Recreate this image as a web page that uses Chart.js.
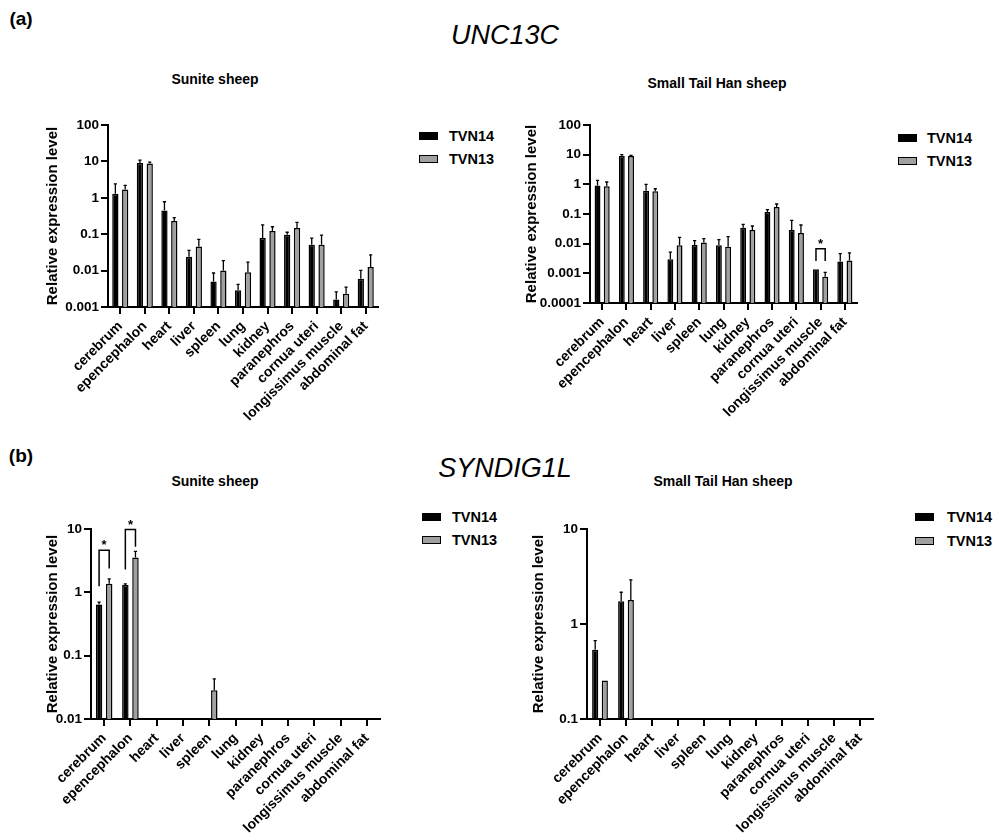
<!DOCTYPE html>
<html>
<head>
<meta charset="utf-8">
<script src="https://cdn.jsdelivr.net/npm/chart.js@4.4.1/dist/chart.umd.min.js"></script>
<style>
  body{margin:0;width:996px;height:836px;position:relative;overflow:hidden;background:#fff;
       font-family:"Liberation Sans",Arial,sans-serif;color:#000}
  .abs{position:absolute}
  .tag{font-weight:bold;font-size:19px;transform:translate(-50%,-50%)}
  .gene{font-style:italic;font-size:27px;transform:translate(-50%,-50%);white-space:nowrap}
  .sub{font-weight:bold;font-size:14px;transform:translate(-50%,-50%);white-space:nowrap}
  .lgbox{position:absolute;width:19px;height:8px;box-sizing:border-box;border:1.5px solid #000}
  .lgtxt{position:absolute;font-weight:bold;font-size:14.5px;line-height:18px;white-space:nowrap}
</style>
</head>
<body>

<div class="abs tag" style="left:21px;top:19px">(a)</div>
<div class="abs gene" style="left:505px;top:35px">UNC13C</div>
<div class="abs sub" style="left:215px;top:79px">Sunite sheep</div>
<div class="abs sub" style="left:717px;top:83px">Small Tail Han sheep</div>

<div class="abs tag" style="left:21px;top:456px">(b)</div>
<div class="abs gene" style="left:505px;top:468px">SYNDIG1L</div>
<div class="abs sub" style="left:215px;top:481px">Sunite sheep</div>
<div class="abs sub" style="left:723px;top:481px">Small Tail Han sheep</div>

<script>
/* ===== dados ===== */

const tissues = ['cerebrum','epencephalon','heart','liver','spleen','lung','kidney',
                 'paranephros','cornua uteri','longissimus muscle','abdominal fat'];
const groups = ['TVN14','TVN13'];

// UNC13C - Sunite sheep (media e topo da barra de erro)
const uncSun14    = [1.3, 9.0, 0.45, 0.024, 0.005, 0.0029, 0.079, 0.096, 0.051, 0.0016, 0.006];
const uncSun14Err = [2.4, 10.9, 0.78, 0.036, 0.0086, 0.0042, 0.18, 0.113, 0.078, 0.0026, 0.0102];
const uncSun13    = [1.7, 8.8, 0.23, 0.046, 0.01, 0.009, 0.123, 0.149, 0.051, 0.0023, 0.0126];
const uncSun13Err = [2.2, 9.6, 0.285, 0.072, 0.0187, 0.017, 0.16, 0.21, 0.094, 0.0035, 0.027];

// UNC13C - Small Tail Han sheep
const uncSth14    = [0.92, 9.0, 0.61, 0.003, 0.009, 0.0088, 0.0346, 0.117, 0.029, 0.00136, 0.0025];
const uncSth14Err = [1.36, 10, 1.0, 0.0052, 0.0126, 0.0136, 0.045, 0.14, 0.061, null, 0.0046];
const uncSth13    = [0.86, 9.0, 0.58, 0.0088, 0.011, 0.0079, 0.029, 0.172, 0.023, 0.00076, 0.0027];
const uncSth13Err = [1.2, 9.5, 0.71, 0.0163, 0.0147, 0.0172, 0.0394, 0.217, 0.0425, 0.00108, 0.0049];

// SYNDIG1L - Sunite sheep
const synSun14    = [0.645, 1.31, null, null, null, null, null, null, null, null, null];
const synSun14Err = [0.70, 1.36, null, null, null, null, null, null, null, null, null];
const synSun13    = [1.37, 3.55, null, null, 0.0285, null, null, null, null, null, null];
const synSun13Err = [1.63, 4.42, null, null, 0.043, null, null, null, null, null, null];

// SYNDIG1L - Small Tail Han sheep
const synSth14    = [0.536, 1.74, null, null, null, null, null, null, null, null, null];
const synSth14Err = [0.667, 2.16, null, null, null, null, null, null, null, null, null];
const synSth13    = [0.254, 1.79, null, null, null, null, null, null, null, null, null];
const synSth13Err = [null, 2.92, null, null, null, null, null, null, null, null, null];

// ticks do eixo y (log)
const ticksUncSun = [0.001, 0.01, 0.1, 1, 10, 100];
const ticksUncSth = [0.0001, 0.001, 0.01, 0.1, 1, 10, 100];
const ticksSynSun = [0.01, 0.1, 1, 10];
const ticksSynSth = [0.1, 1, 10];

// diferencas significativas: indice do tecido, topo do colchete, pe esquerdo, pe direito
const sigUncSth = [{ index: 9, top: 0.0068, left: 0.0026, right: 0.0026 }];
const sigSynSun = [
  { index: 0, top: 4.6, left: 1.25, right: 2.38 },
  { index: 1, top: 9.8, left: 2.29, right: 5.24 }
];

/* ===== helpers ===== */

const FONT = '"Liberation Sans", Arial, sans-serif';
const fills = ['#000000', '#a0a0a0'];

const errorBars = {
  id: 'errorBars',
  afterDatasetsDraw(chart) {
    const ctx = chart.ctx, ys = chart.scales.y;
    ctx.save();
    ctx.strokeStyle = '#000';
    ctx.lineWidth = 1.3;
    chart.data.datasets.forEach((ds, di) => {
      const meta = chart.getDatasetMeta(di);
      (ds.errTop || []).forEach((e, i) => {
        if (e == null || ds.data[i] == null) return;
        const x = meta.data[i].x;
        const y0 = ys.getPixelForValue(ds.data[i]);
        const y1 = ys.getPixelForValue(e);
        ctx.beginPath();
        ctx.moveTo(x, y0); ctx.lineTo(x, y1);
        ctx.moveTo(x - 1.6, y1); ctx.lineTo(x + 1.6, y1);
        ctx.stroke();
      });
    });
    ctx.restore();
  }
};

function bracketPlugin(items) {
  return {
    id: 'sigBrackets',
    afterDatasetsDraw(chart) {
      const ctx = chart.ctx, ys = chart.scales.y;
      const m0 = chart.getDatasetMeta(0), m1 = chart.getDatasetMeta(1);
      ctx.save();
      ctx.strokeStyle = '#000';
      ctx.fillStyle = '#000';
      ctx.lineWidth = 1.5;
      items.forEach(b => {
        const x0 = m0.data[b.index].x, x1 = m1.data[b.index].x;
        const yt = ys.getPixelForValue(b.top);
        ctx.beginPath();
        ctx.moveTo(x0, ys.getPixelForValue(b.left));
        ctx.lineTo(x0, yt);
        ctx.lineTo(x1, yt);
        ctx.lineTo(x1, ys.getPixelForValue(b.right));
        ctx.stroke();
        ctx.font = 'bold 13px ' + FONT;
        ctx.textAlign = 'center';
        ctx.textBaseline = 'alphabetic';
        ctx.fillText('*', (x0 + x1) / 2, yt - 1);
      });
      ctx.restore();
    }
  };
}

function addLegend(boxLeft, textLeft, rows) {
  groups.forEach((g, k) => {
    const b = document.createElement('div');
    b.className = 'lgbox';
    b.style.left = boxLeft + 'px';
    b.style.top = (rows[k] - 4) + 'px';
    b.style.background = fills[k];
    document.body.appendChild(b);
    const t = document.createElement('div');
    t.className = 'lgtxt';
    t.style.left = textLeft + 'px';
    t.style.top = (rows[k] - 9) + 'px';
    t.textContent = g;
    document.body.appendChild(t);
  });
}

/* ===== charts ===== */

function makePanel(p) {
  const wrap = document.createElement('div');
  wrap.className = 'abs';
  wrap.style.left = p.box.left + 'px';
  wrap.style.top = p.box.top + 'px';
  const cv = document.createElement('canvas');
  cv.width = p.box.w; cv.height = p.box.h;
  cv.style.width = p.box.w + 'px'; cv.style.height = p.box.h + 'px';
  wrap.appendChild(cv);
  document.body.appendChild(wrap);

  const yW = p.plot.left - p.box.left;
  const xH = p.box.top + p.box.h - p.plot.bottom;
  const pad = { top: p.plot.top - p.box.top, right: p.box.left + p.box.w - p.plot.right, left: 0, bottom: 0 };

  return new Chart(cv, {
    type: 'bar',
    data: {
      labels: tissues,
      datasets: groups.map((g, k) => ({
        label: g,
        data: p.values[k],
        errTop: p.errs[k],
        backgroundColor: fills[k],
        borderColor: '#000',
        borderWidth: 1.5,
        categoryPercentage: p.cat,
        barPercentage: 0.64
      }))
    },
    options: {
      responsive: false,
      animation: false,
      devicePixelRatio: 1,
      layout: { padding: pad },
      plugins: { legend: { display: false }, tooltip: { enabled: false } },
      scales: {
        x: {
          offset: true,
          grid: { display: true, drawOnChartArea: false, offset: false, color: '#000', lineWidth: 2, tickLength: 7 },
          border: { color: '#000', width: 2 },
          ticks: { color: '#000', font: { family: FONT, size: 14, weight: 'bold' },
                   minRotation: 45, maxRotation: 45, autoSkip: false, padding: 4 },
          afterFit(s) { s.height = xH; s.paddingLeft = 0; s.paddingRight = 0; }
        },
        y: {
          type: 'logarithmic',
          min: p.ticks[0],
          max: p.ticks[p.ticks.length - 1],
          grid: { display: true, drawOnChartArea: false, color: '#000', lineWidth: 2, tickLength: 7 },
          border: { color: '#000', width: 2 },
          afterBuildTicks(s) { s.ticks = p.ticks.map(v => ({ value: v })); },
          ticks: { color: '#000', padding: 2, font: { family: FONT, size: 13.5, weight: 'bold' },
                   callback: v => String(v) },
          title: { display: true, text: 'Relative expression level', color: '#000',
                   font: { family: FONT, size: 15, weight: 'bold' }, padding: { top: 4, bottom: 4 } },
          afterFit(s) { s.width = yW; s.paddingTop = 0; s.paddingBottom = 0; }
        }
      }
    },
    plugins: [errorBars, bracketPlugin(p.sig || [])]
  });
}

const chartUncSun = makePanel({
  box: { left: 40, top: 100, w: 345, h: 340 },
  plot: { left: 108, top: 125, right: 378, bottom: 307 },
  values: [uncSun14, uncSun13], errs: [uncSun14Err, uncSun13Err],
  ticks: ticksUncSun, cat: 0.8
});
const chartUncSth = makePanel({
  box: { left: 519, top: 100, w: 346, h: 340 },
  plot: { left: 590, top: 125, right: 857, bottom: 303 },
  values: [uncSth14, uncSth13], errs: [uncSth14Err, uncSth13Err],
  ticks: ticksUncSth, cat: 0.76, sig: sigUncSth
});
const chartSynSun = makePanel({
  box: { left: 40, top: 500, w: 346, h: 336 },
  plot: { left: 91, top: 529, right: 380, bottom: 719 },
  values: [synSun14, synSun13], errs: [synSun14Err, synSun13Err],
  ticks: ticksSynSun, cat: 0.77, sig: sigSynSun
});
const chartSynSth = makePanel({
  box: { left: 526, top: 500, w: 356, h: 336 },
  plot: { left: 587, top: 529, right: 873, bottom: 719 },
  values: [synSth14, synSth13], errs: [synSth14Err, synSth13Err],
  ticks: ticksSynSth, cat: 0.74
});

addLegend(419, 449, [136, 159]);
addLegend(898, 927, [138, 161]);
addLegend(422, 452, [517, 540]);
addLegend(915, 947, [517, 541]);
</script>
</body>
</html>
